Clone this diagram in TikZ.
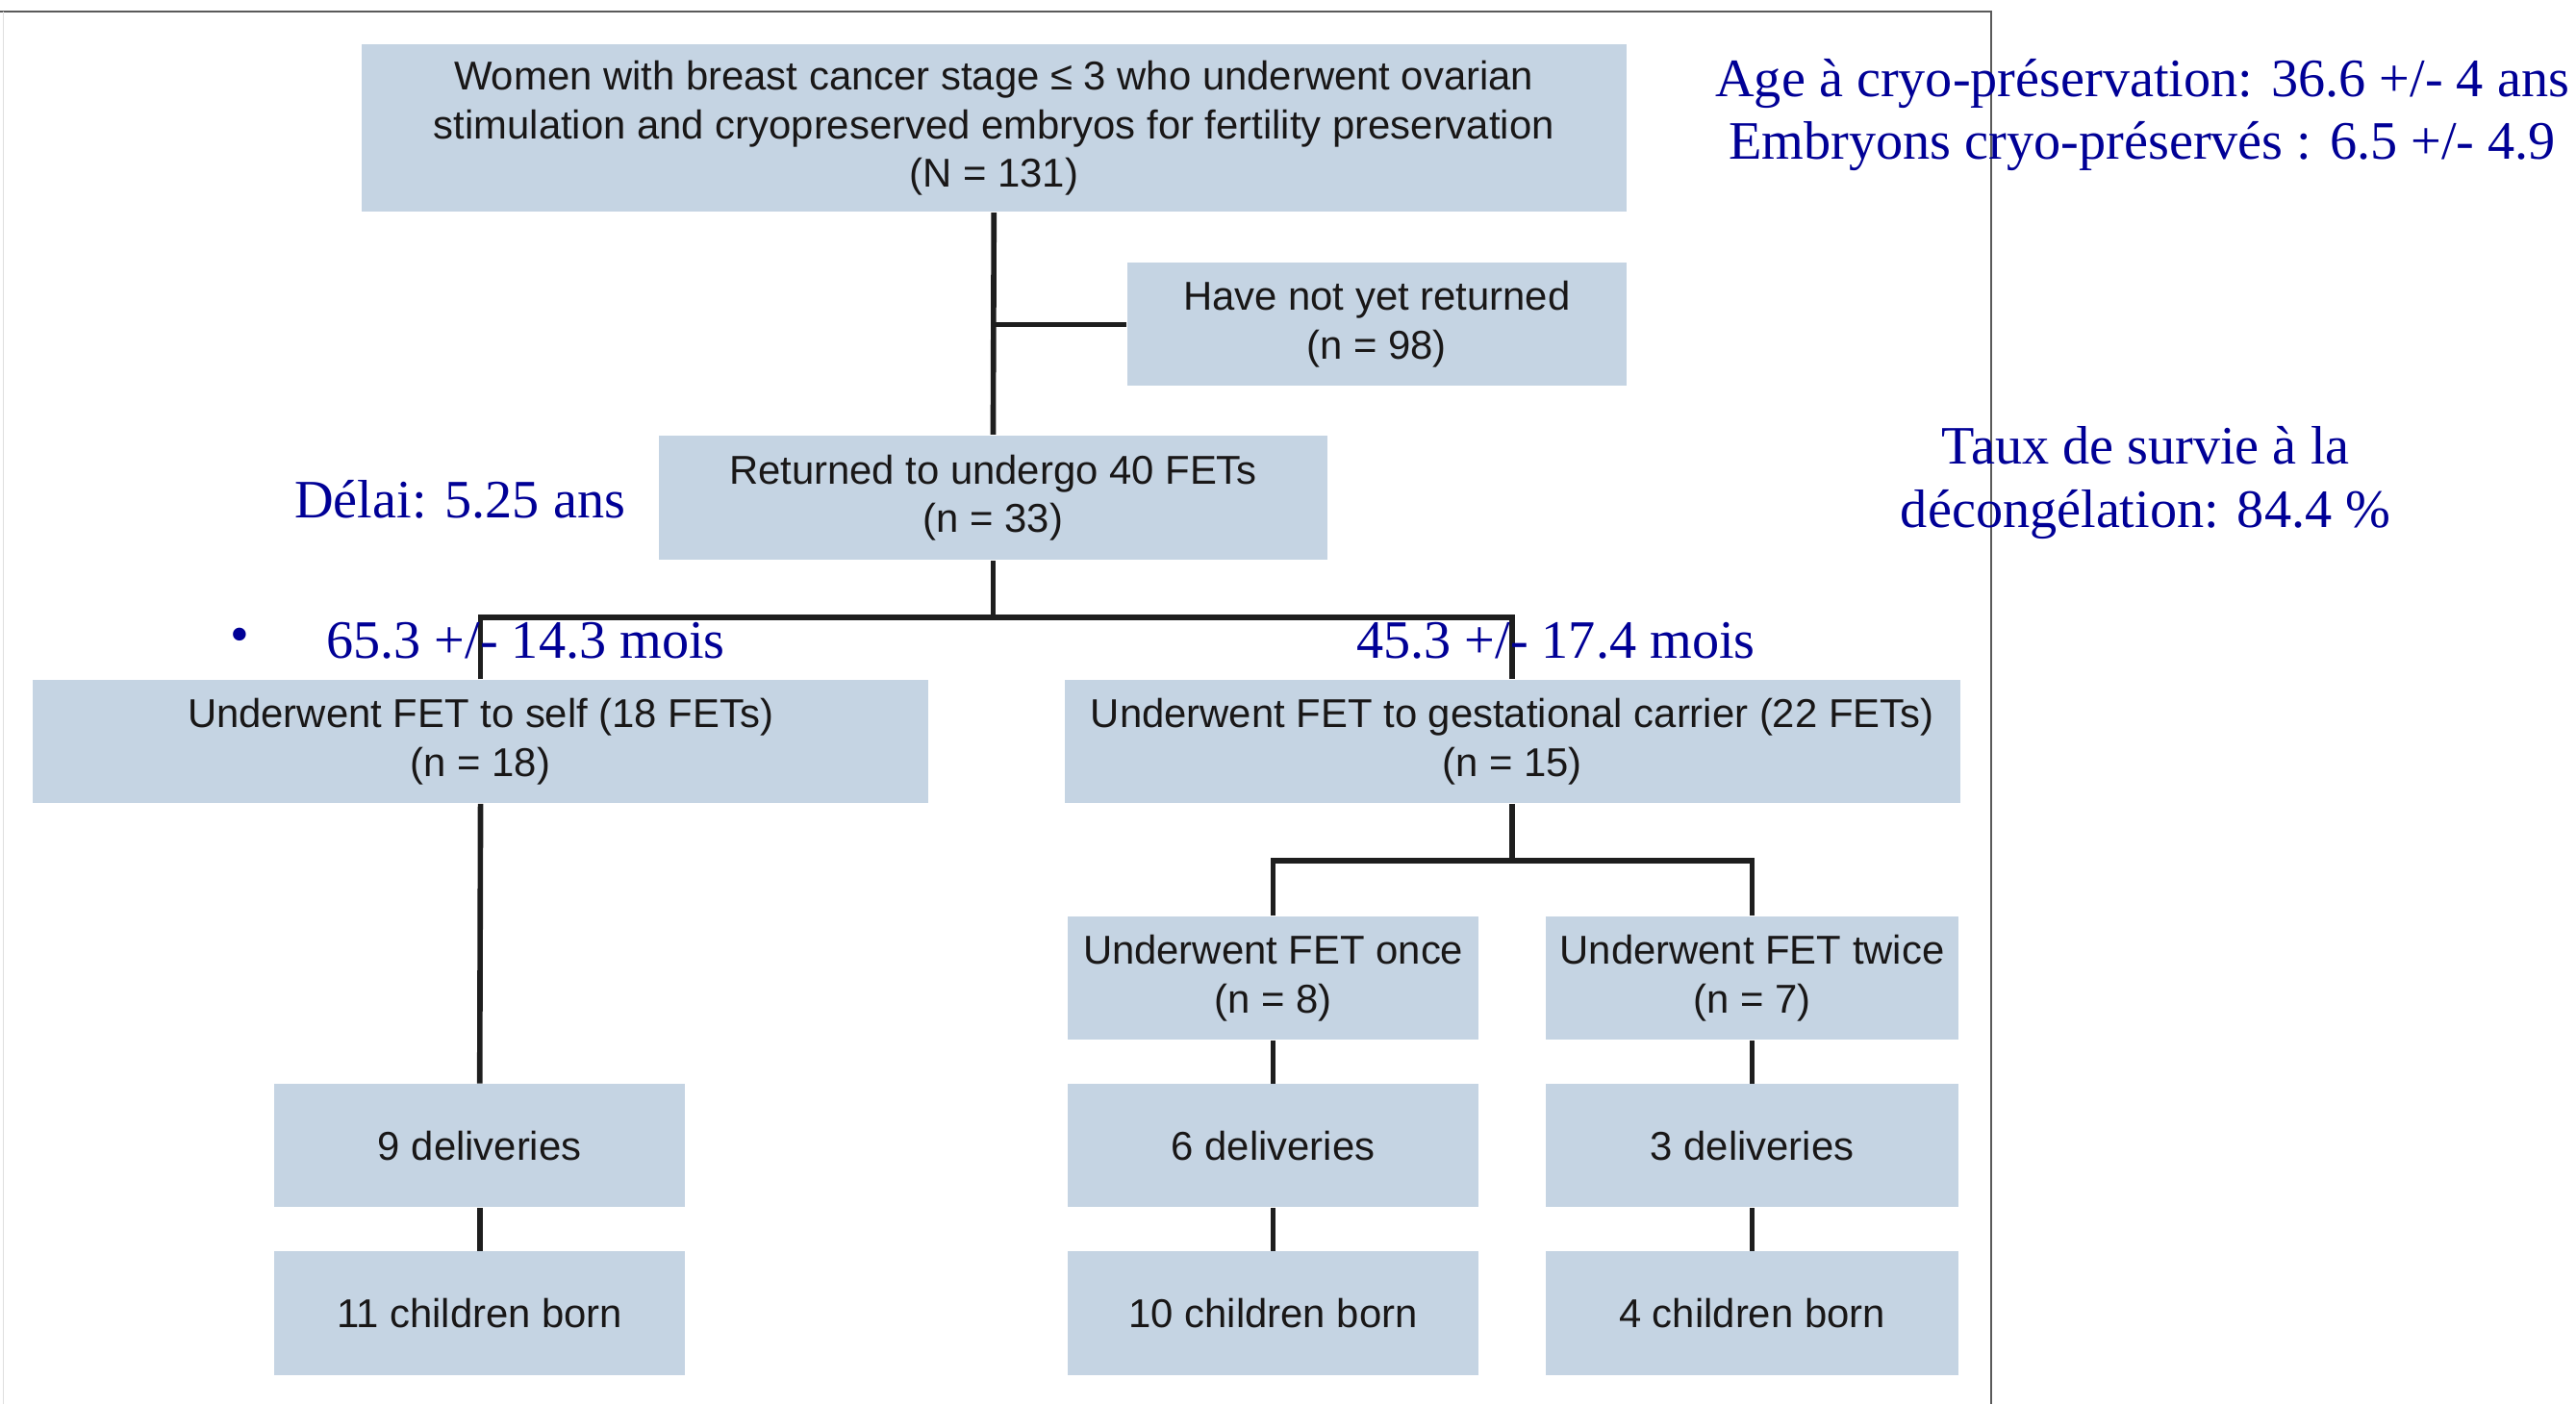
\documentclass[tikz,border=0pt]{standalone}
\usepackage{fontspec}
\setmainfont{Liberation Sans}
\newfontfamily\notefont{Liberation Serif}
\newcommand\pxu{0.01708cm}
\begin{document}
\begin{tikzpicture}[x=\pxu,y=-\pxu,
  boxfill/.style 2 args={fill=boxblue, draw=none, inner sep=0pt, align=center,
    text=boxtext, font=\fontsize{11.9}{14.4}\selectfont,
    minimum width=#1*\pxu, minimum height=#2*\pxu},
  link/.style={line width=1.6pt, draw=linegray},
  note/.style={text=notenavy, font=\notefont\fontsize{16}{18.6}\selectfont, inner sep=0pt, align=center}]
\definecolor{boxblue}{RGB}{197,212,227}
\definecolor{boxtext}{RGB}{25,23,23}
\definecolor{linegray}{RGB}{30,30,30}
\definecolor{notenavy}{RGB}{0,0,150}
\definecolor{framegray}{RGB}{90,90,90}
\useasboundingbox (0,0) rectangle (1568,855);
% outer frame
\draw[framegray, line width=0.8pt] (0,7) -- (1212,7) -- (1212,855);
\draw[gray!25, line width=0.5pt] (2,7) -- (2,855);

% boxes
\node[boxfill={770}{102}] (top) at (605,78)
  {Women with breast cancer stage ≤ 3 who underwent ovarian\\
   stimulation and cryopreserved embryos for fertility preservation\\
   (N = 131)};
\node[boxfill={304}{75}] (notret) at (838,197.5)
  {Have not yet returned\\(n = 98)};
\node[boxfill={407}{76}] (ret) at (604.5,303)
  {Returned to undergo 40 FETs\\(n = 33)};
\node[boxfill={545}{75}] (self) at (292.5,451.5)
  {Underwent FET to self (18 FETs)\\(n = 18)};
\node[boxfill={545}{75}] (carrier) at (920.5,451.5)
  {Underwent FET to gestational carrier (22 FETs)\\(n = 15)};
\node[boxfill={250}{75}] (once) at (775,595.5)
  {Underwent FET once\\(n = 8)};
\node[boxfill={251}{75}] (twice) at (1066.5,595.5)
  {Underwent FET twice\\(n = 7)};
\node[boxfill={250}{75}] (del9) at (292,697.5) {9 deliveries};
\node[boxfill={250}{75}] (del6) at (775,697.5) {6 deliveries};
\node[boxfill={251}{75}] (del3) at (1066.5,697.5) {3 deliveries};
\node[boxfill={250}{75}] (ch11) at (292,799.5) {11 children born};
\node[boxfill={250}{75}] (ch10) at (775,799.5) {10 children born};
\node[boxfill={251}{75}] (ch4) at (1066.5,799.5) {4 children born};

% connectors
\coordinate (forkA) at (605,376);
\coordinate (forkB) at (920,524);
\draw[link] (top.south) -- (ret.north);
\draw[link] (notret.west) -- (notret.west -| top.south);
\draw[link] (ret.south) -- (ret.south |- forkA);
\draw[link] (self.north) |- (carrier.north |- forkA) -- (carrier.north);
\draw[link] (carrier.south) -- (carrier.south |- forkB);
\draw[link] (once.north) |- (twice.north |- forkB) -- (twice.north);
\draw[link] (self.south) -- (del9.north);
\draw[link] (del9.south) -- (ch11.north);
\draw[link] (once.south) -- (del6.north);
\draw[link] (del6.south) -- (ch10.north);
\draw[link] (twice.south) -- (del3.north);
\draw[link] (del3.south) -- (ch4.north);

% annotations
\node[note] (age) at (1304,70)
  {Age à cryo-préservation: 36.6 +/- 4 ans\\Embryons cryo-préservés : 6.5 +/- 4.9};
\node[note] (survie) at (1306,294)
  {Taux de survie à la\\décongélation: 84.4 \%};
\node[note] (delai) at (280,304) {Délai: 5.25 ans};
\node[note] (bullet) at (146,390) {•};
\node[note] (selfdelay) at (320,390) {65.3 +/- 14.3 mois};
\node[note] (gcdelay) at (947,390) {45.3 +/- 17.4 mois};
\end{tikzpicture}
\end{document}
